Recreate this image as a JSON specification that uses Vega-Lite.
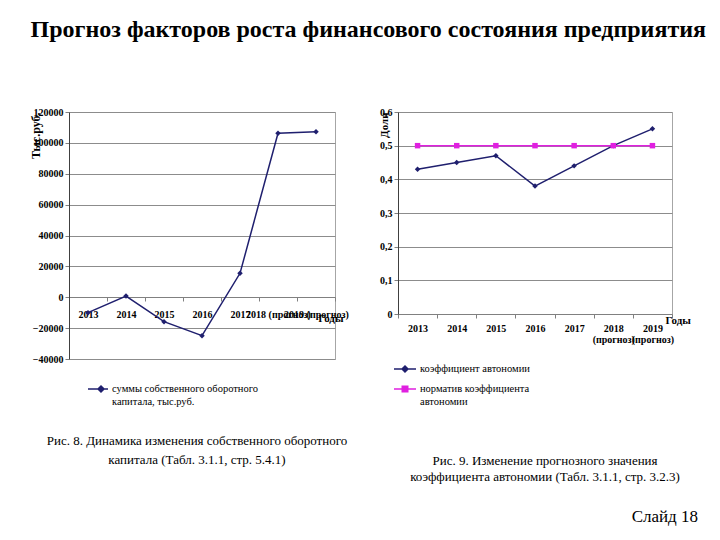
{
  "$schema": "https://vega.github.io/schema/vega-lite/v6.json",
  "padding": {"left": 28, "top": 17, "right": 5, "bottom": 5},
  "background": "white",
  "title": {
    "text": "Прогноз факторов роста финансового состояния предприятия",
    "font": "Liberation Serif",
    "fontSize": 24,
    "fontWeight": "bold",
    "color": "#000000",
    "anchor": "start",
    "dx": 2,
    "offset": 65
  },
  "datasets": {
    "left": [
      {"year": "2013", "series": "суммы собственного оборотного капитала, тыс.руб.", "value": -10000},
      {"year": "2014", "series": "суммы собственного оборотного капитала, тыс.руб.", "value": 800},
      {"year": "2015", "series": "суммы собственного оборотного капитала, тыс.руб.", "value": -15800},
      {"year": "2016", "series": "суммы собственного оборотного капитала, тыс.руб.", "value": -24900},
      {"year": "2017", "series": "суммы собственного оборотного капитала, тыс.руб.", "value": 15500},
      {"year": "2018 (прогноз)", "series": "суммы собственного оборотного капитала, тыс.руб.", "value": 106200},
      {"year": "2019 (прогноз)", "series": "суммы собственного оборотного капитала, тыс.руб.", "value": 107200}
    ],
    "right": [
      {"year": "2013", "series": "коэффициент автономии", "value": 0.43},
      {"year": "2014", "series": "коэффициент автономии", "value": 0.45},
      {"year": "2015", "series": "коэффициент автономии", "value": 0.47},
      {"year": "2016", "series": "коэффициент автономии", "value": 0.38},
      {"year": "2017", "series": "коэффициент автономии", "value": 0.44},
      {"year": "2018 (прогноз)", "series": "коэффициент автономии", "value": 0.5},
      {"year": "2019 (прогноз)", "series": "коэффициент автономии", "value": 0.55},
      {"year": "2013", "series": "норматив коэффициента автономии", "value": 0.5},
      {"year": "2014", "series": "норматив коэффициента автономии", "value": 0.5},
      {"year": "2015", "series": "норматив коэффициента автономии", "value": 0.5},
      {"year": "2016", "series": "норматив коэффициента автономии", "value": 0.5},
      {"year": "2017", "series": "норматив коэффициента автономии", "value": 0.5},
      {"year": "2018 (прогноз)", "series": "норматив коэффициента автономии", "value": 0.5},
      {"year": "2019 (прогноз)", "series": "норматив коэффициента автономии", "value": 0.5}
    ],
    "footer": [{"t": "Слайд 18"}]
  },
  "vconcat": [
    {
      "hconcat": [
        {
          "width": 266,
          "height": 247,
          "title": {
            "text": ["Рис. 8. Динамика изменения собственного оборотного", "капитала (Табл. 3.1.1, стр. 5.4.1)"],
            "orient": "bottom",
            "anchor": "middle",
            "font": "Liberation Serif",
            "fontSize": 13,
            "fontWeight": "normal",
            "color": "#000000",
            "lineHeight": 19,
            "offset": 28,
            "dx": -5
          },
          "data": {"name": "left"},
          "encoding": {
            "x": {
              "field": "year", "type": "nominal", "sort": null,
              "scale": {"type": "band", "paddingInner": 0, "paddingOuter": 0},
              "axis": {
                "title": "Годы", "labelAngle": 0, "offset": -62, "labelOverlap": false,
                "tickBand": "extent", "tickSize": 4, "labelPadding": 8,
                "titleX": 274, "titleY": 15, "titleAlign": "right", "titleBaseline": "top",
                "titleFontSize": 11, "titleFontWeight": "bold"
              }
            },
            "y": {
              "field": "value", "type": "quantitative",
              "scale": {"domain": [-40000, 120000], "nice": false},
              "axis": {
                "title": "Тыс.руб.", "values": [-40000, -20000, 0, 20000, 40000, 60000, 80000, 100000, 120000],
                "format": "d", "tickSize": 4, "labelPadding": 2, "domainColor": "#404040",
                "titleX": -34, "titleY": 0, "titleAlign": "right", "titleBaseline": "middle",
                "titleFontSize": 12, "titleFontWeight": "bold"
              }
            }
          },
          "layer": [
            {"mark": {"type": "line", "color": "#1f1f6e", "strokeWidth": 1.5}},
            {"mark": {"type": "point", "shape": "diamond", "filled": true, "color": "#1f1f6e", "size": 30, "opacity": 1}},
            {
              "transform": [{"filter": "false"}],
              "mark": {"type": "point", "filled": true, "opacity": 1, "strokeWidth": 1.5},
              "encoding": {
                "fill": {"field": "series", "type": "nominal",
                  "scale": {"domain": ["суммы собственного оборотного капитала, тыс.руб."], "range": ["#1f1f6e"]},
                  "legend": {"orient": "none", "legendX": 18, "legendY": 266, "title": null, "labelLimit": 400, "symbolSize": 400,
                    "labelExpr": "datum.label == 'суммы собственного оборотного капитала, тыс.руб.' ? ['суммы собственного оборотного', 'капитала, тыс.руб.'] : datum.label"}},
                "stroke": {"field": "series", "type": "nominal",
                  "scale": {"domain": ["суммы собственного оборотного капитала, тыс.руб."], "range": ["#1f1f6e"]},
                  "legend": {"orient": "none", "legendX": 18, "legendY": 266, "title": null, "labelLimit": 400, "symbolSize": 400,
                    "labelExpr": "datum.label == 'суммы собственного оборотного капитала, тыс.руб.' ? ['суммы собственного оборотного', 'капитала, тыс.руб.'] : datum.label"}},
                "shape": {"field": "series", "type": "nominal",
                  "scale": {"domain": ["суммы собственного оборотного капитала, тыс.руб."], "range": ["M-1,0H1M0.3,-0.3L0.6,0L0.3,0.3L0,0Z"]},
                  "legend": {"orient": "none", "legendX": 18, "legendY": 266, "title": null, "labelLimit": 400, "symbolSize": 400,
                    "labelExpr": "datum.label == 'суммы собственного оборотного капитала, тыс.руб.' ? ['суммы собственного оборотного', 'капитала, тыс.руб.'] : datum.label"}}
              }
            }
          ]
        },
        {
          "width": 274,
          "height": 202,
          "title": {
            "text": ["Рис. 9. Изменение прогнозного значения", "коэффициента автономии (Табл. 3.1.1, стр. 3.2.3)"],
            "orient": "bottom",
            "anchor": "middle",
            "font": "Liberation Serif",
            "fontSize": 13,
            "fontWeight": "normal",
            "color": "#000000",
            "lineHeight": 16,
            "offset": 48,
            "dx": 10
          },
          "data": {"name": "right"},
          "encoding": {
            "x": {
              "field": "year", "type": "nominal", "sort": null,
              "scale": {"type": "band", "paddingInner": 0, "paddingOuter": 0},
              "axis": {
                "title": "Годы", "labelAngle": 0, "labelOverlap": false,
                "labelExpr": "split(datum.label, ' ')", "labelLineHeight": 11,
                "tickBand": "extent", "tickSize": 4, "labelPadding": 5,
                "titleX": 267, "titleY": 0, "titleAlign": "left", "titleBaseline": "top",
                "titleFontSize": 11, "titleFontWeight": "bold"
              }
            },
            "y": {
              "field": "value", "type": "quantitative",
              "scale": {"domain": [0, 0.6], "nice": false},
              "axis": {
                "title": "Доли", "values": [0, 0.1, 0.2, 0.3, 0.4, 0.5, 0.6],
                "labelExpr": "datum.value == 0 ? '0' : replace(format(datum.value, '.1f'), '.', ',')",
                "tickSize": 4, "labelPadding": 2, "domainColor": "#404040",
                "titleX": -14, "titleY": 0, "titleAlign": "right", "titleBaseline": "middle",
                "titleFontSize": 11, "titleFontWeight": "bold"
              }
            }
          },
          "layer": [
            {
              "transform": [{"filter": "datum.series == 'коэффициент автономии'"}],
              "mark": {"type": "line", "strokeWidth": 1.5, "color": "#1f1f6e"}
            },
            {
              "transform": [{"filter": "datum.series == 'норматив коэффициента автономии'"}],
              "mark": {"type": "line", "strokeWidth": 1.5, "color": "#e020e0"}
            },
            {
              "transform": [{"filter": "datum.series == 'коэффициент автономии'"}],
              "mark": {"type": "point", "shape": "diamond", "filled": true, "color": "#1f1f6e", "size": 30, "opacity": 1}
            },
            {
              "transform": [{"filter": "datum.series == 'норматив коэффициента автономии'"}],
              "mark": {"type": "point", "shape": "square", "filled": true, "color": "#e020e0", "size": 30, "opacity": 1}
            },
            {
              "transform": [{"filter": "false"}],
              "mark": {"type": "point", "filled": true, "opacity": 1, "strokeWidth": 1.5},
              "encoding": {
                "fill": {"field": "series", "type": "nominal",
                  "scale": {"domain": ["коэффициент автономии", "норматив коэффициента автономии"], "range": ["#1f1f6e", "#e020e0"]},
                  "legend": {"orient": "none", "legendX": -5, "legendY": 245, "title": null, "labelLimit": 400, "symbolSize": 484,
                    "labelExpr": "datum.label == 'норматив коэффициента автономии' ? ['норматив коэффициента', 'автономии'] : datum.label"}},
                "stroke": {"field": "series", "type": "nominal",
                  "scale": {"domain": ["коэффициент автономии", "норматив коэффициента автономии"], "range": ["#1f1f6e", "#e020e0"]},
                  "legend": {"orient": "none", "legendX": -5, "legendY": 245, "title": null, "labelLimit": 400, "symbolSize": 484,
                    "labelExpr": "datum.label == 'норматив коэффициента автономии' ? ['норматив коэффициента', 'автономии'] : datum.label"}},
                "shape": {"field": "series", "type": "nominal",
                  "scale": {"domain": ["коэффициент автономии", "норматив коэффициента автономии"], "range": ["M-1,0H1M0,-0.27L0.27,0L0,0.27L-0.27,0Z", "M-1,0H1M-0.25,-0.25H0.25V0.25H-0.25Z"]},
                  "legend": {"orient": "none", "legendX": -5, "legendY": 245, "title": null, "labelLimit": 400, "symbolSize": 484,
                    "labelExpr": "datum.label == 'норматив коэффициента автономии' ? ['норматив коэффициента', 'автономии'] : datum.label"}}
              }
            }
          ]
        }
      ],
      "spacing": 28,
      "resolve": {
        "scale": {"fill": "independent", "stroke": "independent", "shape": "independent", "color": "independent"},
        "legend": {"fill": "independent", "stroke": "independent", "shape": "independent", "color": "independent"}
      }
    },
    {
      "width": 629,
      "height": 20,
      "view": {"stroke": null},
      "data": {"name": "footer"},
      "mark": {"type": "text", "align": "right", "baseline": "middle", "font": "Liberation Serif", "fontSize": 17, "color": "#000000"},
      "encoding": {
        "text": {"field": "t"},
        "x": {"datum": 1, "type": "quantitative", "scale": {"domain": [0, 1]}, "axis": null}
      }
    }
  ],
  "spacing": 22,
  "config": {
    "font": "Liberation Serif",
    "view": {"stroke": "#a6a6a6"},
    "axis": {
      "labelFont": "Liberation Serif", "labelFontWeight": "bold", "labelFontSize": 10, "labelColor": "#000000",
      "titleFont": "Liberation Serif", "titleColor": "#000000",
      "gridColor": "#8c8c8c", "gridOpacity": 1, "domainColor": "#808080", "tickColor": "#808080"
    },
    "legend": {"labelFont": "Liberation Serif", "labelFontSize": 10.5, "labelColor": "#000000", "labelOffset": 3, "rowPadding": 2}
  }
}
